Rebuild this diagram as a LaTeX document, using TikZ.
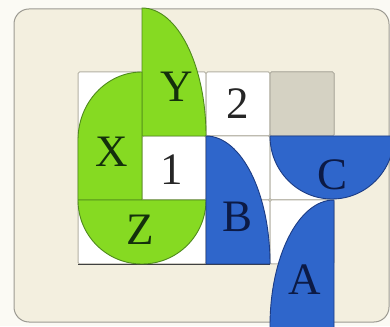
\documentclass[tikz,border=0pt]{standalone}
\usepackage{fontspec}
\setmainfont{Liberation Serif}
\definecolor{outside}{HTML}{FBFAF4}
\definecolor{cream}{HTML}{F3EFDF}
\definecolor{frame}{HTML}{9C9A92}
\definecolor{cellline}{HTML}{B3B0A3}
\definecolor{cellgrey}{HTML}{D5D2C3}
\definecolor{leaf}{HTML}{86DA22}
\definecolor{leafline}{HTML}{4F8A1C}
\definecolor{sea}{HTML}{2F66CB}
\definecolor{sealine}{HTML}{1C3C85}
\definecolor{greentext}{HTML}{14300C}
\definecolor{bluetext}{HTML}{0C1A45}
\tikzset{
  cellbox/.style={draw=cellline, line width=1pt, fill=white, rounded corners=1.5pt},
  greenpart/.style={fill=leaf, draw=leafline, line width=0.9pt},
  bluepart/.style={fill=sea, draw=sealine, line width=0.9pt},
  lbl/.style={font=\fontsize{45}{45}\selectfont, inner sep=0pt},
}
\begin{document}
\begin{tikzpicture}[x=1pt,y=1pt]
\useasboundingbox (0,0) rectangle (390,326);
\fill[outside] (0,0) rectangle (390,326);
\begin{scope}
\clip (0,0) rectangle (390,326);
\draw[fill=cream, draw=frame, line width=1pt, rounded corners=15pt] (14,4) rectangle (389,317);
% grid cells
\foreach \c in {0,1,2,3}{
  \foreach \r in {0,1,2}{
    \path[cellbox] (78+64*\c,254-64*\r) rectangle (142+64*\c,190-64*\r);
  }
}
\path[cellbox, fill=cellgrey] (270,254) rectangle (334,190);
\draw[black!75, line width=0.9pt] (78,62) -- (270,62);
% green shapes
\draw[greenpart] (142,190) -- (142,318) arc[start angle=90, end angle=0, x radius=64, y radius=128] -- cycle;
\draw[greenpart] (142,126) -- (142,254) arc[start angle=90, end angle=180, x radius=64, y radius=68] -- (78,126) -- cycle;
\draw[greenpart] (78,126) arc[start angle=180, end angle=360, x radius=64, y radius=64] -- cycle;
% blue shapes
\draw[bluepart] (206,62) -- (206,190) arc[start angle=90, end angle=0, x radius=64, y radius=128] -- cycle;
\draw[bluepart] (334,-2) -- (334,126) arc[start angle=90, end angle=180, x radius=64, y radius=126] -- (270,-2) -- cycle;
\draw[bluepart] (270,190) arc[start angle=180, end angle=360, x radius=62, y radius=63] -- cycle;
\end{scope}
% labels
\node[lbl, text=greentext] (ly) at (177,239) {Y};
\node[lbl, text=black!85] (l2) at (238,222) {2};
\node[lbl, text=greentext] (lx) at (112,174) {X};
\node[lbl, text=black!85] (l1) at (172,156) {1};
\node[lbl, text=bluetext] (lb) at (238,109) {B};
\node[lbl, text=bluetext] (lc) at (333,151) {C};
\node[lbl, text=greentext] (lz) at (140,96) {Z};
\node[lbl, text=bluetext] (la) at (305,46) {A};
\end{tikzpicture}
\end{document}
